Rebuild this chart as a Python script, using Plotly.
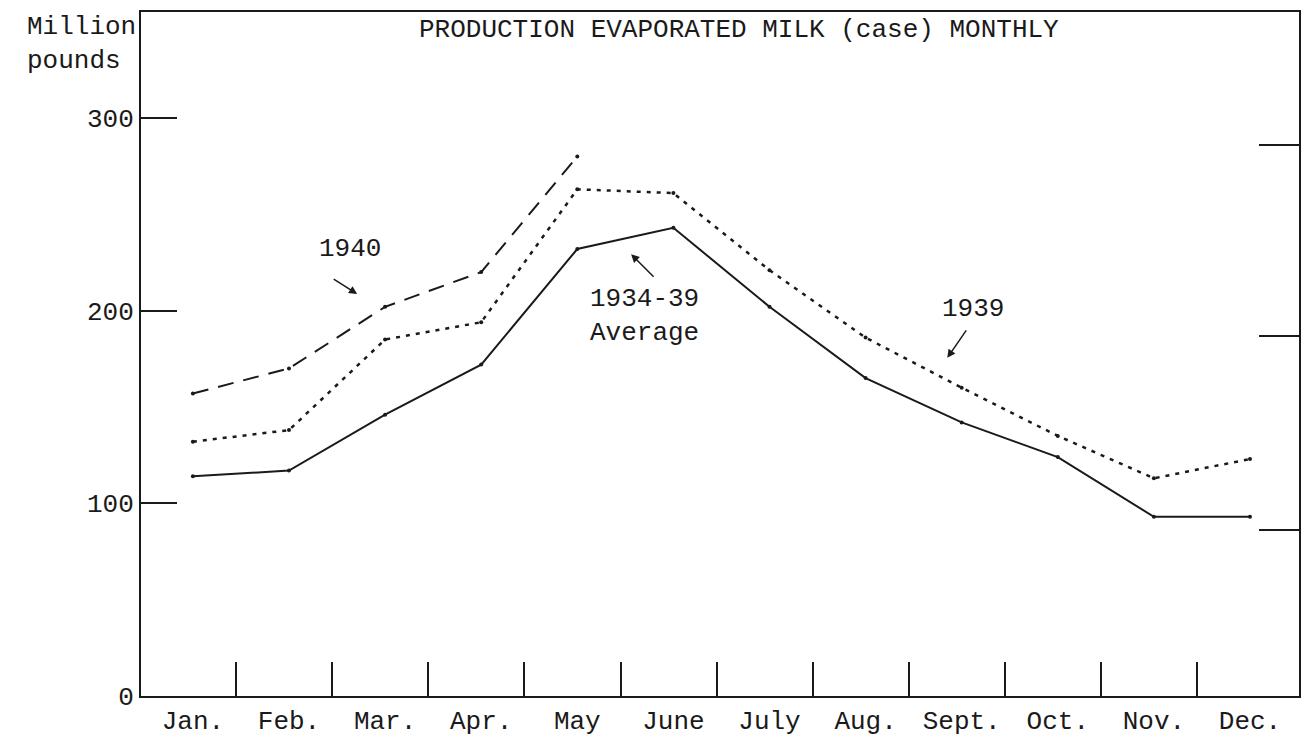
import plotly.graph_objects as go

months = ["Jan.", "Feb.", "Mar.", "Apr.", "May", "June", "July",
          "Aug.", "Sept.", "Oct.", "Nov.", "Dec."]
month_idx = list(range(len(months)))

prod_1940 = [157, 170, 202, 220, 280]
prod_1939 = [132, 138, 185, 194, 263, 261, 221, 186, 160, 135, 113, 123]
prod_avg = [114, 117, 146, 172, 232, 243, 202, 165, 142, 124, 93, 93]

y_ticks = [0, 100, 200, 300]
right_ticks = [86, 187, 286]

FONT = "Liberation Mono, Courier New, monospace"
INK = "#1a1a1a"

fig = go.Figure()
fig.add_trace(go.Scatter(
    x=month_idx[:len(prod_1940)], y=prod_1940, mode="lines+markers", name="1940",
    line=dict(color=INK, width=2, dash="16px,10px"),
    marker=dict(size=4, color=INK)))
fig.add_trace(go.Scatter(
    x=month_idx, y=prod_1939, mode="lines+markers", name="1939",
    line=dict(color=INK, width=2.5, dash="4px,6px"),
    marker=dict(size=4, color=INK)))
fig.add_trace(go.Scatter(
    x=month_idx, y=prod_avg, mode="lines+markers", name="1934-39 Average",
    line=dict(color=INK, width=2),
    marker=dict(size=4, color=INK)))
# empty trace so that the right-hand (unlabelled) scale is drawn
fig.add_trace(go.Scatter(x=[], y=[], yaxis="y2", showlegend=False, hoverinfo="skip"))

annotations = [
    dict(text="PRODUCTION EVAPORATED MILK (case) MONTHLY", xref="paper", yref="paper",
         x=0.2384, y=0.974, xanchor="left", yanchor="middle", showarrow=False),
    dict(text="Million<br>pounds", xref="paper", yref="paper", x=-0.1, y=0.953,
         xanchor="left", yanchor="middle", align="left", showarrow=False),
    dict(text="1940", x=1.63, y=232, showarrow=False),
    dict(text="", x=1.71, y=208.6, ax=-25, ay=-16, showarrow=True,
         arrowhead=2, arrowsize=1.1, arrowwidth=1.5, arrowcolor=INK),
    dict(text="1934-39<br>Average", x=4.70, y=197, showarrow=False),
    dict(text="", x=4.56, y=229.3, ax=24, ay=24, showarrow=True,
         arrowhead=2, arrowsize=1.1, arrowwidth=1.5, arrowcolor=INK),
    dict(text="1939", x=8.12, y=201, showarrow=False),
    dict(text="", x=7.85, y=175.5, ax=20, ay=-29, showarrow=True,
         arrowhead=2, arrowsize=1.1, arrowwidth=1.5, arrowcolor=INK),
]

fig.update_layout(
    width=1295, height=737,
    margin=dict(l=133, r=2, t=2, b=49),
    paper_bgcolor="white", plot_bgcolor="white",
    showlegend=False,
    font=dict(family=FONT, size=26, color=INK),
    annotations=annotations,
    xaxis=dict(
        range=[-0.54, 11.51], tickvals=month_idx, ticktext=months,
        ticks="", showgrid=False, zeroline=False,
        showline=True, linecolor=INK, linewidth=2, mirror=True,
        tickfont=dict(family=FONT, size=26, color=INK),
        minor=dict(tickvals=[i + 0.45 for i in month_idx[:-1]], ticks="inside",
                   ticklen=34, tickwidth=2, tickcolor=INK, showgrid=False),
    ),
    yaxis=dict(
        range=[0, 355], tickvals=y_ticks, ticktext=[str(v) for v in y_ticks],
        ticks="inside", ticklen=36, tickwidth=2, tickcolor=INK,
        showgrid=False, zeroline=False,
        showline=True, linecolor=INK, linewidth=2, mirror=True,
        tickfont=dict(family=FONT, size=26, color=INK),
    ),
    yaxis2=dict(
        range=[0, 355], overlaying="y", side="right", tickvals=right_ticks,
        ticks="inside", ticklen=40, tickwidth=2, tickcolor=INK,
        showticklabels=False, showgrid=False, zeroline=False,
        showline=True, linecolor=INK, linewidth=2,
    ),
)

fig.write_html("out.html")
